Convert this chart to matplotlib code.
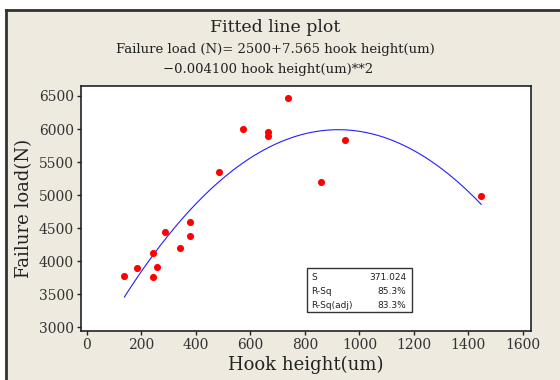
import numpy as np
import matplotlib.pyplot as plt
from matplotlib.patches import Rectangle
from matplotlib.lines import Line2D

# measured points
hook_height = [137, 183, 241, 241, 258, 287, 341, 377, 378, 484,
               574, 663, 663, 739, 860, 949, 1447]
failure_load = [3780, 3900, 3770, 4130, 3920, 4450, 4200, 4390, 4600, 5350,
                6000, 5960, 5890, 6470, 5200, 5840, 4980]

# fitted quadratic: 2500 + 7.565 x - 0.004100 x^2
coefs = [-0.0041, 7.565, 2500]
stat_names = ["S", "R-Sq", "R-Sq(adj)"]
stat_values = ["371.024", "85.3%", "83.3%"]

bg = "#EEEAE0"
serif = ["DejaVu Serif"]

fig = plt.figure(figsize=(5.6, 3.8), dpi=100, facecolor=bg)
ax = fig.add_axes([81/560, 1 - 331/380, 450/560, 245/380])
ax.set_facecolor("white")

xfit = np.linspace(min(hook_height), max(hook_height), 200)
ax.plot(xfit, np.polyval(coefs, xfit), color="#2020ff", lw=0.8)
ax.scatter(hook_height, failure_load, s=26, color="#ff0000", zorder=3, linewidths=0)

ax.set_xlim(-22, 1630)
ax.set_ylim(2947, 6650)
ax.set_xticks(range(0, 1601, 200))
ax.set_yticks(range(3000, 6501, 500))
ax.tick_params(direction="out", length=3, width=1, colors="#222222",
               labelsize=10, labelcolor="#333333", pad=2)
for lab in ax.get_xticklabels() + ax.get_yticklabels():
    lab.set_family(serif)
for s in ax.spines.values():
    s.set_color("#222222")
    s.set_linewidth(1.2)

ax.set_xlabel("Hook height(um)", fontsize=13, family=serif, color="#222222", labelpad=3)
ax.set_ylabel("Failure load(N)", fontsize=13, family=serif, color="#222222", labelpad=4)

fig.text(275/560, 1 - 27/380, "Fitted line plot", ha="center", va="center",
         fontsize=12.5, family=serif, color="#222222")
fig.text(275/560, 1 - 50/380, "Failure load (N)= 2500+7.565 hook height(um)",
         ha="center", va="center", fontsize=9.5, family=serif, color="#222222")
fig.text(268/560, 1 - 70/380, "\u22120.004100 hook height(um)**2",
         ha="center", va="center", fontsize=9.5, family=serif, color="#222222")

# stats box
fig.patches.append(Rectangle((307/560, 1 - 312/380), 105/560, 44/380,
                             transform=fig.transFigure, facecolor="white",
                             edgecolor="#333333", lw=1))
for i, (n, v) in enumerate(zip(stat_names, stat_values)):
    y = 1 - (277 + i * 14) / 380
    fig.text(311/560, y, n, ha="left", va="center", fontsize=6.5, color="#222222")
    fig.text(406/560, y, v, ha="right", va="center", fontsize=6.5, color="#222222")

# white margin outside the frame
fig.patches.append(Rectangle((0, 0), 5/560, 1, transform=fig.transFigure,
                             facecolor="white", edgecolor="none", zorder=-1))
fig.patches.append(Rectangle((0, 1 - 9/380), 1, 9/380, transform=fig.transFigure,
                             facecolor="white", edgecolor="none", zorder=-1))
# outer frame
fig.add_artist(Line2D([5.5/560, 1], [1 - 10/380, 1 - 10/380], transform=fig.transFigure,
                      color="#333333", lw=2))
fig.add_artist(Line2D([5.5/560, 5.5/560], [0, 1 - 10/380], transform=fig.transFigure,
                      color="#333333", lw=2))

fig.savefig("out.png", dpi=100, facecolor=bg)
